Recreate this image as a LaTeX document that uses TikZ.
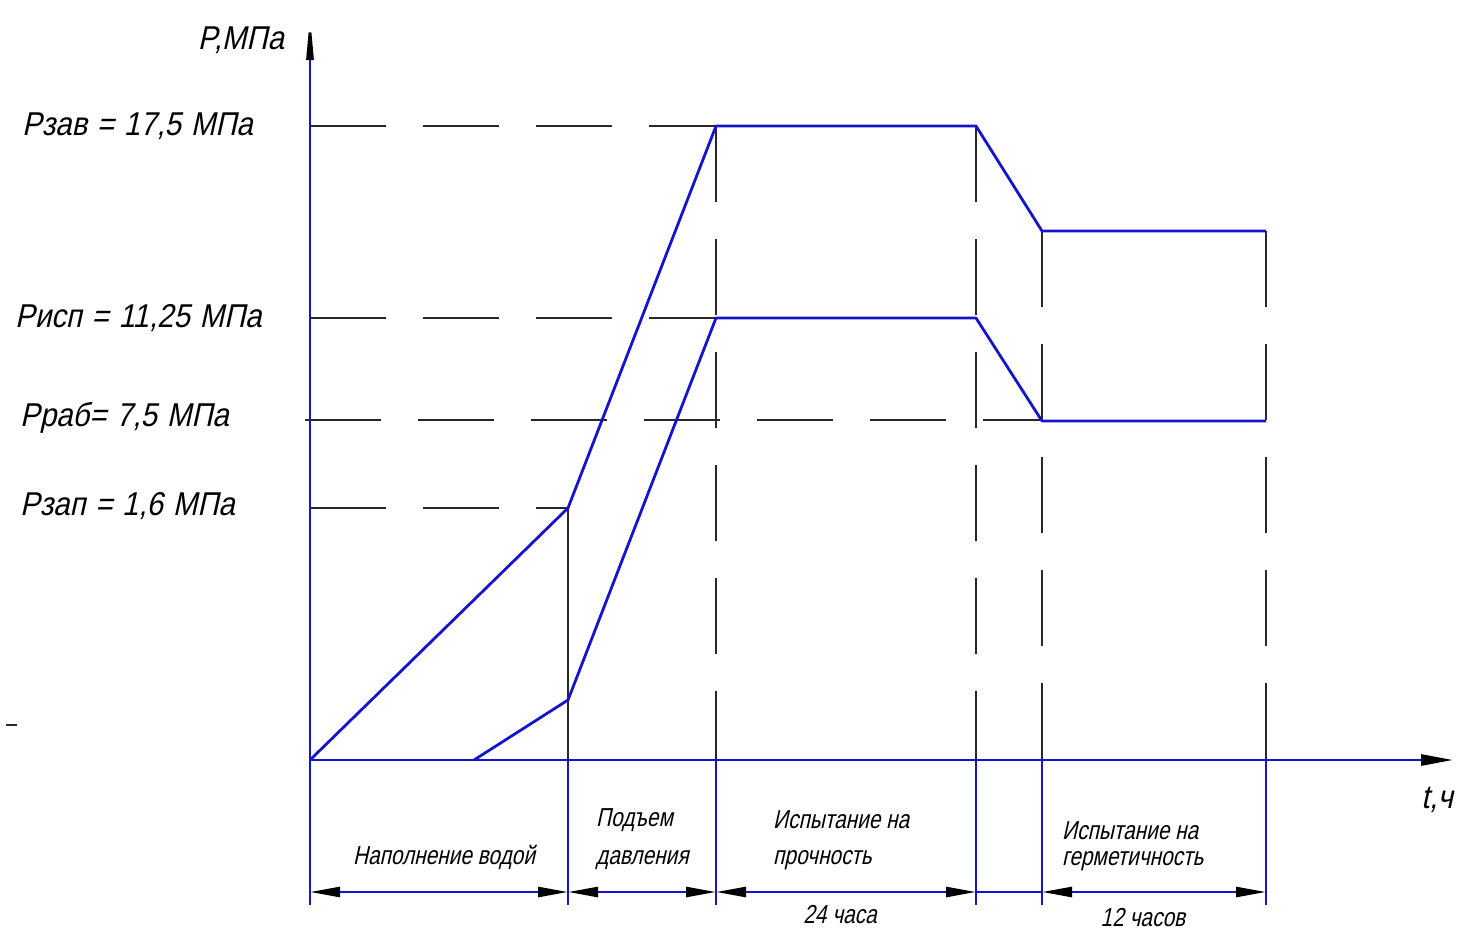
\documentclass[tikz,border=0pt]{standalone}
\usepackage{fontspec}
\setmainfont{Liberation Sans}[FakeStretch=0.8, FakeSlant=0.22]
\newfontfamily\widefont{Liberation Sans}[FakeStretch=0.89, FakeSlant=0.22, WordSpace=1.2]
\usetikzlibrary{arrows.meta}
\definecolor{lineblue}{RGB}{20,20,205}
\definecolor{dashgray}{RGB}{40,40,40}
\tikzset{
  curve/.style={lineblue, line width=2.8pt, line join=round},
  axisline/.style={lineblue, line width=2.8pt},
  guide/.style={dashgray, line width=1.4pt, dash pattern=on 76pt off 37pt},
  ext/.style={lineblue, line width=2.6pt},
  dimline/.style={lineblue, line width=2.6pt,
    {Triangle[length=30pt,width=10pt,color=black]}-{Triangle[length=30pt,width=10pt,color=black]}},
  biglabel/.style={font=\widefont\fontsize{33}{36}\selectfont, inner sep=0pt},
  smalllabel/.style={font=\fontsize{26}{30}\selectfont, inner sep=0pt},
}
\begin{document}
\begin{tikzpicture}[x=1pt, y=-1pt]
\useasboundingbox (0,0) rectangle (1461,932);
% key coordinates
\coordinate (O) at (310,760);
\coordinate (ytop) at (310,14);
\coordinate (xend) at (1453,760);
\coordinate (A1) at (568,508);
\coordinate (A2) at (716,126);
\coordinate (A3) at (976,126);
\coordinate (A4) at (1042,231);
\coordinate (A5) at (1266,231);
\coordinate (B0) at (474,760);
\coordinate (B1) at (568,700);
\coordinate (B2) at (716,318);
\coordinate (B3) at (976,318);
\coordinate (B4) at (1042,421);
\coordinate (B5) at (1266,421);
\coordinate (Lzav) at (310,126);
\coordinate (Lisp) at (310,318);
\coordinate (Lrab) at (305,420);
\coordinate (Lzap) at (310,508);
\coordinate (Lrabend) at (1042,420);
% guide (dashed) lines
\draw[guide] (Lzav) -- (A2);
\draw[guide] (Lisp) -- (B2);
\draw[guide] (Lrab) -- (Lrabend);
\draw[guide] (Lzap) -- (A1);
\draw[guide] (A2) -- (716,760);
\draw[guide] (A3) -- (976,760);
\draw[guide] (A4) -- (1042,760);
\draw[guide] (A5) -- (1266,760);
\draw[dashgray, line width=1.4pt] (A1) -- (568,760);
% axes
\draw[axisline, -{Triangle[length=46pt,width=7pt,color=black]}] (O) -- (ytop);
\draw[axisline, -{Triangle[length=32pt,width=11pt,color=black]}] (O) -- (xend);
% curves
\draw[curve] (O) -- (A1) -- (A2) -- (A3) -- (A4) -- (A5);
\draw[curve] (B0) -- (B1) -- (B2) -- (B3) -- (B4) -- (B5);
% extension lines below axis
\foreach \xx/\nm in {310/e0,568/e1,716/e2,976/e3,1042/e4,1266/e5}{
  \coordinate (\nm t) at (\xx,760);
  \coordinate (\nm b) at (\xx,905);
  \coordinate (\nm d) at (\xx,892);
  \draw[ext] (\nm t) -- (\nm b);
}
% dimension lines
\draw[dimline] (e0d) -- (e1d);
\draw[dimline] (e1d) -- (e2d);
\draw[dimline] (e2d) -- (e3d);
\draw[ext] (e3d) -- (e4d);
\draw[dimline] (e4d) -- (e5d);
% stray mark
\draw[dashgray, line width=1.4pt] (6,725) -- (17,725);
% labels
\node[biglabel, anchor=east] (ylab) at (284,40) {P,МПа};
\node[biglabel, anchor=west] (tzav) at (22,126) {Рзав = 17,5 МПа};
\node[biglabel, anchor=west] (tisp) at (15,318) {Рисп = 11,25 МПа};
\node[biglabel, anchor=west] (trab) at (20,418) {Рраб= 7,5 МПа};
\node[biglabel, anchor=west] (tzap) at (20,506) {Рзап = 1,6 МПа};
\node[biglabel, anchor=center] (xlab) at (1437,800) {t,ч};
\node[smalllabel, anchor=center] (s1) at (444,857) {Наполнение водой};
\node[smalllabel, anchor=west] (s2a) at (596,820) {Подъем};
\node[smalllabel, anchor=west] (s2b) at (596,860) {давления};
\node[smalllabel, anchor=west] (s3a) at (773,820) {Испытание на};
\node[smalllabel, anchor=west] (s3b) at (773,860) {прочность};
\node[smalllabel, anchor=center] (s3c) at (840,915) {24 часа};
\node[smalllabel, anchor=west] (s4a) at (1062,831) {Испытание на};
\node[smalllabel, anchor=west] (s4b) at (1062,861) {герметичность};
\node[smalllabel, anchor=center] (s4c) at (1143,918) {12 часов};
\end{tikzpicture}
\end{document}
